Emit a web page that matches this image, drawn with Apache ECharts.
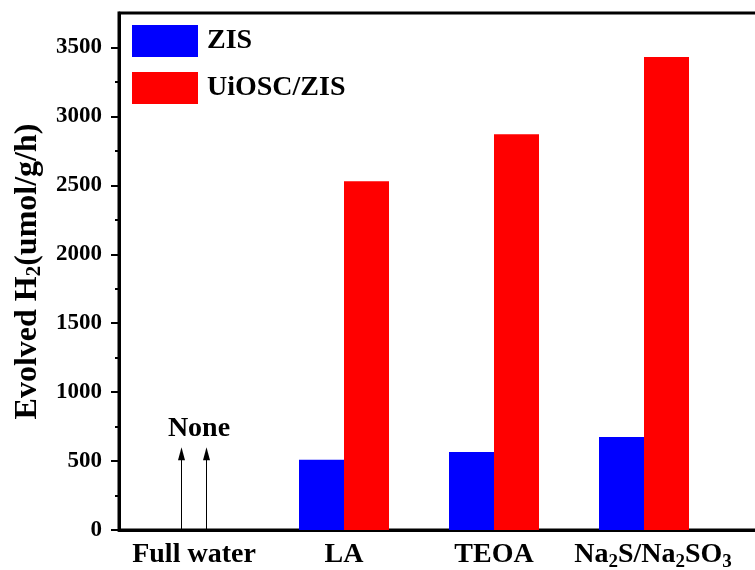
<!DOCTYPE html>
<html>
<head>
<meta charset="utf-8">
<script src="https://cdn.jsdelivr.net/npm/echarts@6/dist/echarts.min.js"></script>
<style>
  html, body { margin: 0; padding: 0; background: #fff; }
  #main { width: 755px; height: 570px; }
</style>
</head>
<body>
<div id="main"></div>
<script>
// categories and values
var categories = ['Full water', 'LA', 'TEOA', 'Na2S/Na2SO3'];
var zisValues = [0, 510, 565, 675];
var uioscValues = [0, 2530, 2870, 3430];
var majorTicks = [0, 500, 1000, 1500, 2000, 2500, 3000, 3500];
var minorTicks = [250, 750, 1250, 1750, 2250, 2750, 3250];
var noneText = 'None';
var noneArrowTop = 600;
var noneTextLevel = 735;

var FONT = "'Liberation Serif', 'Times New Roman', serif";

var chart = echarts.init(document.getElementById('main'));

function catLabel(v) {
	if (v === 'Na2S/Na2SO3') {
		return '{f|Na}{s|2}{b|S/Na}{s|2}{b|SO}{s|3}';
	}
	return '{b|' + v + '}';
}

option = {
	backgroundColor: '#fff',
	animation: false,
	grid: {
		left: 119,
		top: 13,
		bottom: 40,
		width: 750,
		outerBoundsMode: 'none',
		containLabel: false,
		show: true,
		borderColor: '#000',
		borderWidth: 3
	},
	legend: {
		orient: 'vertical',
		left: 132,
		top: 25,
		padding: 0,
		itemWidth: 66,
		itemHeight: 32,
		itemGap: 15,
		icon: 'rect',
		textStyle: {
			fontFamily: FONT,
			fontWeight: 'bold',
			fontSize: 28,
			color: '#000',
			padding: [0, 0, 0, 4]
		},
		data: ['ZIS', 'UiOSC/ZIS']
	},
	xAxis: {
		type: 'category',
		data: categories.concat(['']),
		axisLine: { lineStyle: { color: '#000', width: 3 } },
		axisTick: { show: false },
		axisLabel: {
			interval: 0,
			margin: 8,
			formatter: catLabel,
			rich: {
				b: { fontFamily: FONT, fontWeight: 'bold', fontSize: 28, color: '#000', lineHeight: 34 },
				f: { fontFamily: FONT, fontWeight: 'bold', fontSize: 28, color: '#000', lineHeight: 34, padding: [0, 0, 0, 18] },
				s: { fontFamily: FONT, fontWeight: 'bold', fontSize: 19, color: '#000', verticalAlign: 'bottom', lineHeight: 19 }
			}
		}
	},
	yAxis: [
		{
			type: 'value',
			min: 0,
			max: 3750,
			interval: 250,
			name: '{b|Evolved H}{s|2}{b|(umol/g/h)}',
			nameLocation: 'middle',
			nameGap: 74,
			nameTextStyle: {
				rich: {
					b: { fontFamily: FONT, fontWeight: 'bold', fontSize: 32, color: '#000', lineHeight: 34 },
					s: { fontFamily: FONT, fontWeight: 'bold', fontSize: 21, color: '#000', verticalAlign: 'bottom', lineHeight: 21 }
				}
			},
			axisLine: { show: true, lineStyle: { color: '#000', width: 3 } },
			axisTick: {
				show: true,
				inside: false,
				length: 8,
				lineStyle: { color: '#000', width: 2 },
				customValues: majorTicks
			},
			axisLabel: {
				margin: 17,
				fontFamily: FONT,
				fontWeight: 'bold',
				fontSize: 23,
				color: '#000',
				customValues: majorTicks,
				formatter: function (v) { return String(v); }
			},
			splitLine: { show: false }
		},
		{
			type: 'value',
			min: 0,
			max: 3750,
			interval: 250,
			position: 'left',
			axisLine: { show: false },
			axisTick: {
				show: true,
				inside: false,
				length: 4,
				lineStyle: { color: '#000', width: 2 },
				customValues: minorTicks
			},
			axisLabel: { show: false },
			splitLine: { show: false }
		}
	],
	series: [
		{
			name: 'ZIS',
			type: 'bar',
			barWidth: 45,
			barGap: '0%',
			itemStyle: { color: '#0000ff' },
			data: zisValues
		},
		{
			name: 'UiOSC/ZIS',
			type: 'bar',
			barWidth: 45,
			barGap: '0%',
			itemStyle: { color: '#ff0000' },
			data: uioscValues
		}
	]
};

chart.setOption(option);

// "None" annotation with two arrows above the empty Full water group
var base = chart.convertToPixel({ xAxisIndex: 0, yAxisIndex: 0 }, [categories[0], 0]);
var tip = chart.convertToPixel({ xAxisIndex: 0, yAxisIndex: 0 }, [categories[0], noneArrowTop]);
var txt = chart.convertToPixel({ xAxisIndex: 0, yAxisIndex: 0 }, [categories[0], noneTextLevel]);

function arrow(x) {
	return [
		{
			type: 'line',
			shape: { x1: x, y1: base[1], x2: x, y2: tip[1] + 8 },
			style: { stroke: '#000', lineWidth: 1 },
			z: 10
		},
		{
			type: 'polygon',
			shape: { points: [[x, tip[1]], [x - 3.5, tip[1] + 13], [x + 3.5, tip[1] + 13]] },
			style: { fill: '#000' },
			z: 10
		}
	];
}

chart.setOption({
	graphic: arrow(base[0] - 12.5).concat(arrow(base[0] + 12.5)).concat([
		{
			type: 'text',
			x: txt[0] + 5,
			y: txt[1],
			style: {
				text: noneText,
				fontFamily: FONT,
				fontWeight: 'bold',
				fontSize: 28,
				fill: '#000',
				align: 'center',
				verticalAlign: 'middle'
			},
			z: 10
		}
	])
});
</script>
</body>
</html>
